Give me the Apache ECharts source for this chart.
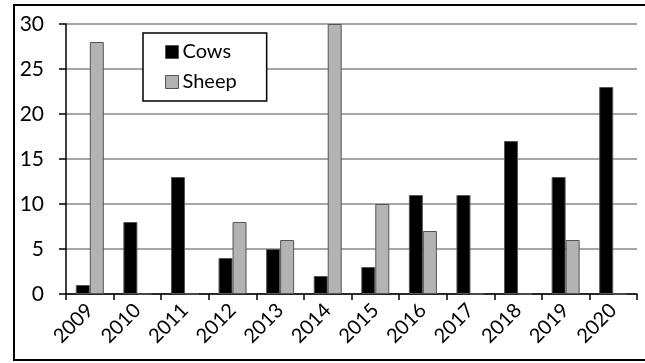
<!DOCTYPE html>
<html>
<head>
<meta charset="utf-8">
<script src="https://cdn.jsdelivr.net/npm/echarts@6/dist/echarts.min.js"></script>
<style>
  html, body {margin: 0; padding: 0; background: #fff;}
  #frame {position: absolute; left: 13px; top: 4px; width: 700px; height: 357px; border: 2px solid #000; box-sizing: border-box;}
  #chart {position: absolute; left: 0; top: 0; width: 645px; height: 363px;}
</style>
</head>
<body>
<div id="frame"></div>
<div id="chart"></div>
<script>
// years along the x axis
const years = ['2009', '2010', '2011', '2012', '2013', '2014', '2015', '2016', '2017', '2018', '2019', '2020'];
// head counts per year
const cows = [1, 8, 13, 4, 5, 2, 3, 11, 11, 17, 13, 23];
const sheep = [28, 0, 0, 8, 6, 30, 10, 7, 0, 0, 6, 0];

const fontFamily = 'Lato, "Open Sans", sans-serif';

let chart = echarts.init(document.getElementById('chart'));
chart.setOption({
  animation: false,
  textStyle: {fontFamily: fontFamily},
  grid: {
    left: 66,
    right: 8,
    top: 24,
    bottom: 69
  },
  legend: {
    orient: 'vertical',
    left: 143,
    top: 33,
    padding: [9, 30, 9, 22],
    itemGap: 10,
    itemWidth: 13,
    itemHeight: 13,
    icon: 'rect',
    borderColor: '#000',
    borderWidth: 1.5,
    backgroundColor: '#fff',
    data: ['Cows', 'Sheep'],
    itemStyle: {borderColor: '#555', borderWidth: 1},
    textStyle: {fontSize: 20, color: '#000', fontFamily: fontFamily, padding: [0, 0, 0, -1]}
  },
  xAxis: {
    type: 'category',
    data: years,
    axisLine: {lineStyle: {color: '#000', width: 1.5}},
    axisTick: {show: true, length: 6, lineStyle: {color: '#000', width: 1.5}},
    axisLabel: {rotate: 45, fontSize: 20, color: '#000', margin: 13}
  },
  yAxis: {
    type: 'value',
    min: 0,
    max: 30,
    interval: 5,
    axisLine: {show: true, lineStyle: {color: '#000', width: 1.5}},
    axisTick: {show: true, length: 7, lineStyle: {color: '#000', width: 1.5}},
    axisLabel: {fontSize: 21, color: '#000', margin: 22},
    splitLine: {lineStyle: {color: '#888', width: 1.5}}
  },
  series: [
    {
      name: 'Cows',
      type: 'bar',
      data: cows,
      barWidth: 14,
      barGap: '0%',
      itemStyle: {color: '#000', borderColor: '#555', borderWidth: 1}
    },
    {
      name: 'Sheep',
      type: 'bar',
      data: sheep,
      barWidth: 14,
      barGap: '0%',
      itemStyle: {color: '#b3b3b3', borderColor: '#555', borderWidth: 1}
    }
  ]
});
</script>
</body>
</html>
